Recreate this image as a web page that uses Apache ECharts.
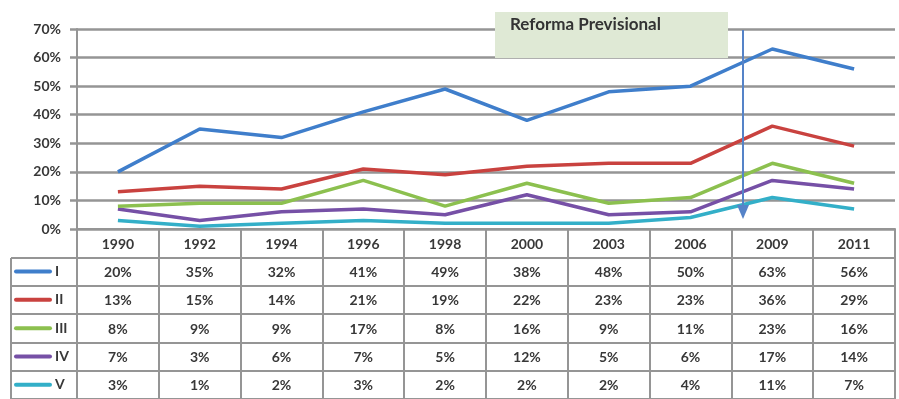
<!DOCTYPE html>
<html>
<head>
<meta charset="utf-8">
<script src="https://cdn.jsdelivr.net/npm/echarts@6/dist/echarts.min.js"></script>
<style>
  html, body { margin: 0; padding: 0; background: #fff; }
  #chart { width: 899px; height: 399px; }
</style>
</head>
<body>
<div id="chart"></div>
<script>
// Survey years
const years = ['1990', '1992', '1994', '1996', '1998', '2000', '2003', '2006', '2009', '2011'];

// Share per quintile (%)
const quintileI   = [20, 35, 32, 41, 49, 38, 48, 50, 63, 56];
const quintileII  = [13, 15, 14, 21, 19, 22, 23, 23, 36, 29];
const quintileIII = [8, 9, 9, 17, 8, 16, 9, 11, 23, 16];
const quintileIV  = [7, 3, 6, 7, 5, 12, 5, 6, 17, 14];
const quintileV   = [3, 1, 2, 3, 2, 2, 2, 4, 11, 7];

const seriesNames = ['I', 'II', 'III', 'IV', 'V'];
const seriesValues = [quintileI, quintileII, quintileIII, quintileIV, quintileV];
const seriesColors = ['#3f7ecb', '#c9423f', '#8cc04f', '#7650a6', '#33afc8'];

// Value axis ticks
const yTicks = [0, 10, 20, 30, 40, 50, 60, 70];

const annotationText = 'Reforma Previsional';

const FONT = 'Lato, "Open Sans", sans-serif';
const TEXT_COLOR = '#383838';
const GRID_COLOR = '#959595';

// Data table rows: header (years) + one row per series
const tableRows = ['', ...seriesNames];
const tableCells = [];
const tableTexts = [];
years.forEach((y, xi) => {
  tableCells.push([xi, 0]);
  tableTexts.push(y);
  seriesValues.forEach((vals, si) => {
    tableCells.push([xi, si + 1]);
    tableTexts.push(vals[xi] + '%');
  });
});

const rich = {};
seriesColors.forEach((c, i) => {
  rich['ln' + i] = { width: 38, height: 4, backgroundColor: c, borderRadius: 2 };
});
rich.nm = { fontFamily: FONT, fontWeight: 'bold', fontSize: 14, color: TEXT_COLOR, padding: [0, 0, 0, 3] };

const chart = echarts.init(document.getElementById('chart'));

const lineSeries = seriesNames.map((name, i) => ({
  name: name,
  type: 'line',
  xAxisIndex: 0,
  yAxisIndex: 0,
  data: seriesValues[i],
  showSymbol: false,
  symbol: 'none',
  lineStyle: { color: seriesColors[i], width: 3.5 },
  itemStyle: { color: seriesColors[i] },
  z: 5 - i + 2
}));

chart.setOption({
  animation: false,
  backgroundColor: '#ffffff',
  grid: [
    { left: 77, right: 4, top: 29, height: 200 },
    { left: 77, right: 4, top: 229, height: 171 }
  ],
  xAxis: [
    {
      type: 'category', gridIndex: 0, data: years, boundaryGap: true,
      axisLine: { show: true, lineStyle: { color: GRID_COLOR, width: 2 } },
      axisTick: { show: false }, axisLabel: { show: false }, splitLine: { show: false }
    },
    {
      type: 'category', gridIndex: 1, data: years, boundaryGap: true,
      axisLine: { show: false }, axisTick: { show: false }, axisLabel: { show: false },
      splitLine: { show: true, lineStyle: { color: GRID_COLOR, width: 2 } }
    }
  ],
  yAxis: [
    {
      type: 'value', gridIndex: 0, min: yTicks[0], max: yTicks[yTicks.length - 1], interval: 10,
      axisLine: { show: true, lineStyle: { color: GRID_COLOR, width: 2 } },
      axisTick: { show: true, length: 7, lineStyle: { color: GRID_COLOR, width: 2.5 } },
      axisLabel: {
        formatter: '{value}%', margin: 16,
        fontFamily: FONT, fontWeight: 'bold', fontSize: 14, color: TEXT_COLOR
      },
      splitLine: { show: true, lineStyle: { color: GRID_COLOR, width: 2.5 } }
    },
    {
      type: 'category', gridIndex: 1, data: tableRows, inverse: true,
      axisLine: { show: true, lineStyle: { color: GRID_COLOR, width: 2 } },
      axisTick: {
        show: true, length: 66, inside: false,
        interval: (idx) => idx !== 0,
        lineStyle: { color: GRID_COLOR, width: 2 }
      },
      axisLabel: {
        align: 'left', margin: 63,
        formatter: (val, idx) => idx === 0 ? '' : `{ln${idx - 1}|}{nm|${val}}`,
        rich: rich
      },
      splitLine: { show: true, lineStyle: { color: GRID_COLOR, width: 2 } }
    }
  ],
  series: [
    ...lineSeries,
    {
      type: 'custom',
      xAxisIndex: 1,
      yAxisIndex: 1,
      data: tableCells,
      silent: true,
      renderItem: (params, api) => {
        const p = api.coord([api.value(0), api.value(1)]);
        return {
          type: 'text',
          x: p[0], y: p[1] + 1,
          style: {
            text: tableTexts[params.dataIndex],
            fontFamily: FONT, fontWeight: 'bold', fontSize: 14,
            fill: TEXT_COLOR, align: 'center', verticalAlign: 'middle'
          }
        };
      }
    }
  ],
  graphic: [
    // label column left border
    { type: 'line', shape: { x1: 11, y1: 258, x2: 11, y2: 400 }, style: { stroke: GRID_COLOR, lineWidth: 2 } },
    // annotation box
    {
      type: 'rect', shape: { x: 495, y: 12, width: 233, height: 46 },
      style: { fill: '#dfe9d5' }, z: 20
    },
    {
      type: 'text', x: 510, y: 16, z: 21,
      style: { text: annotationText, fontFamily: FONT, fontWeight: 'bold', fontSize: 17, fill: '#333333' }
    },
    // vertical arrow marking the reform
    {
      type: 'line', shape: { x1: 743, y1: 30, x2: 743, y2: 210 }, z: 20,
      style: { stroke: '#5583c8', lineWidth: 2 }
    },
    {
      type: 'polygon', shape: { points: [[737, 205], [749, 205], [743, 219]] }, z: 20,
      style: { fill: '#5583c8' }
    }
  ]
});
</script>
</body>
</html>
